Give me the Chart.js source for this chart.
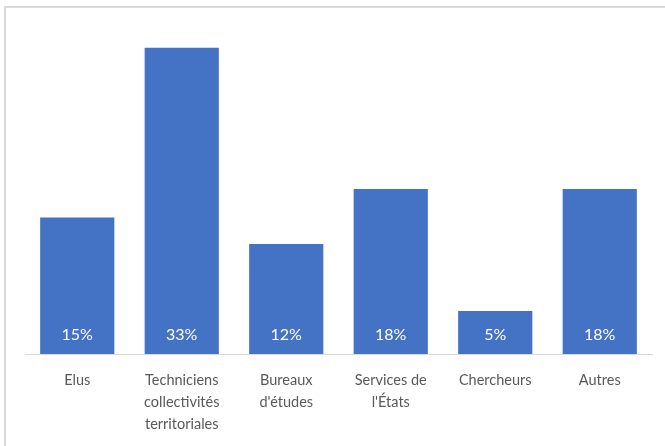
<!DOCTYPE html>
<html><head><meta charset="utf-8">
<script src="https://cdn.jsdelivr.net/npm/chart.js@4/dist/chart.umd.min.js"></script>
<style>
html,body{margin:0;padding:0;background:#fff;}
#wrap{position:relative;width:665px;height:446px;}
#frame{position:absolute;left:4px;top:6px;right:0;bottom:0;border-top:2px solid #d9d9d9;border-left:2px solid #d9d9d9;box-sizing:border-box;pointer-events:none;}
canvas{position:absolute;left:0;top:0;}
</style></head><body>
<div id="wrap"><canvas id="c" width="665" height="446"></canvas><div id="frame"></div></div>
<script>
const categories = [["Elus"], ["Techniciens","collectivités","territoriales"], ["Bureaux","d'études"], ["Services de","l'États"], ["Chercheurs"], ["Autres"]];
const shares = [14.9, 33.4, 12.0, 18.0, 4.7, 18.0];
const shareLabels = ["15%", "33%", "12%", "18%", "5%", "18%"];

const insideLabels = {
  id: 'insideLabels',
  afterDatasetsDraw(chart) {
    const ctx = chart.ctx;
    const meta = chart.getDatasetMeta(0);
    ctx.save();
    ctx.fillStyle = '#ffffff';
    ctx.font = '16px Lato';
    ctx.textAlign = 'center';
    ctx.textBaseline = 'middle';
    meta.data.forEach((bar, i) => {
      ctx.fillText(shareLabels[i], bar.x, bar.base - 19);
    });
    ctx.restore();
  }
};

new Chart(document.getElementById('c'), {
  type: 'bar',
  data: {
    labels: categories,
    datasets: [{
      data: shares,
      backgroundColor: '#4472C4',
      borderWidth: 0,
      categoryPercentage: 1,
      barPercentage: 0.71
    }]
  },
  options: {
    responsive: false,
    animation: false,
    layout: { padding: { left: 25, right: 13, top: 24, bottom: 0 } },
    plugins: { legend: { display: false }, tooltip: { enabled: false } },
    scales: {
      y: { display: false, min: 0, max: 36 },
      x: {
        grid: { display: false, drawTicks: false },
        border: { display: true, color: '#d9d9d9', width: 1 },
        ticks: { color: '#595959', font: { family: 'Lato', size: 14.5, lineHeight: 1.52 }, padding: 15, maxRotation: 0, autoSkip: false },
        afterFit(scale) { scale.height = 92; }
      }
    }
  },
  plugins: [insideLabels]
});
</script>
</body></html>
